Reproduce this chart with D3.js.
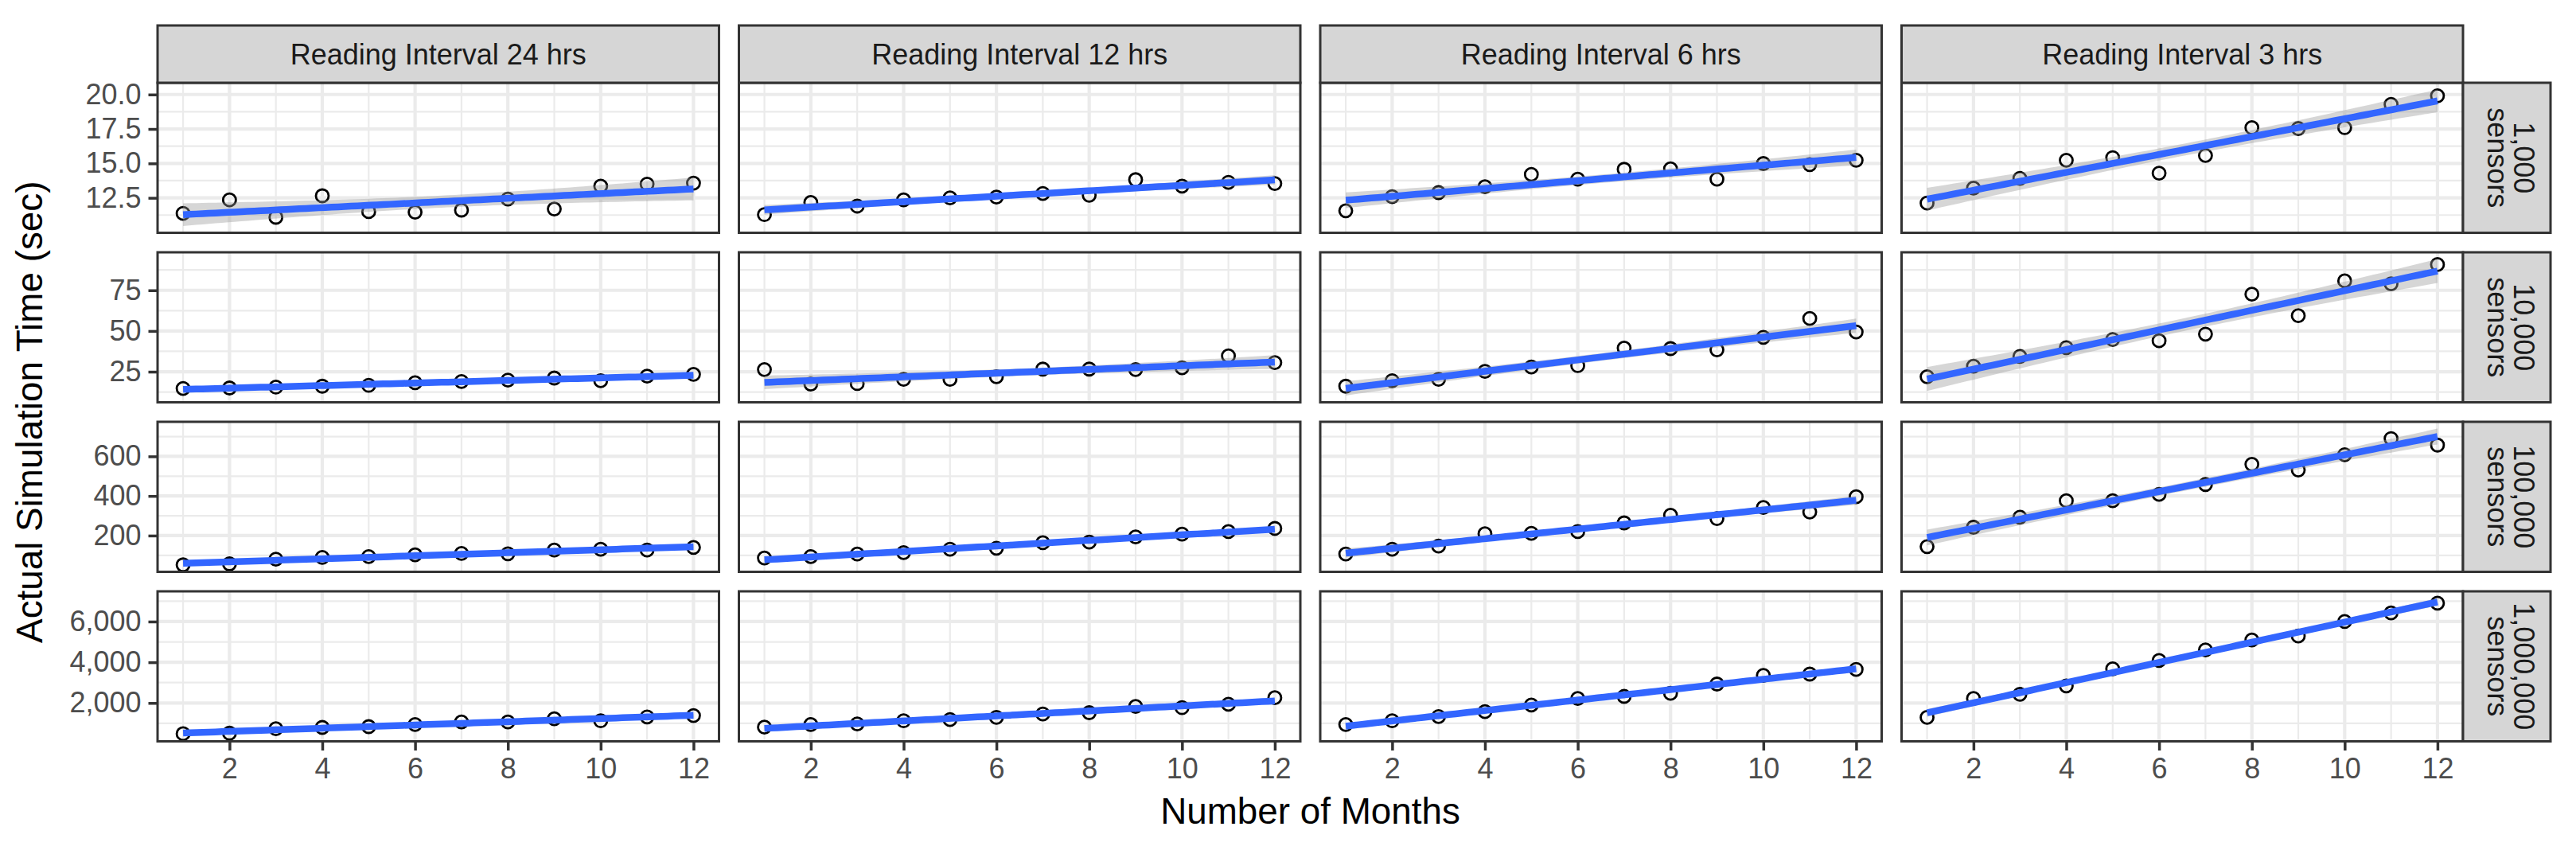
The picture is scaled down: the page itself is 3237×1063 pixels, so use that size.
<!DOCTYPE html>
<html><head><meta charset="utf-8">
<script src="https://cdn.jsdelivr.net/npm/d3@7"></script>
<style>html,body{margin:0;padding:0;background:#fff;} svg{display:block;}</style>
</head><body>
<svg id="chart" width="3237" height="1063"></svg>
<script>
// ---------------- DATA ----------------
const months = [1,2,3,4,5,6,7,8,9,10,11,12];
const intervalLabels = ["Reading Interval 24 hrs","Reading Interval 12 hrs","Reading Interval 6 hrs","Reading Interval 3 hrs"];
const sensorLabels = ["1,000","10,000","100,000","1,000,000"];
const sensorUnit = "sensors";
const xTitle = "Number of Months";
const yTitle = "Actual Simulation Time (sec)";
const xTicks = [2,4,6,8,10,12];
const xMinorTicks = [1,3,5,7,9,11];
const yTicks1k = [12.5,15,17.5,20];
const yTicks10k = [25,50,75];
const yTicks100k = [200,400,600];
const yTicks1m = [2000,4000,6000];
const yMinor1k = [11.25,13.75,16.25,18.75];
const yMinor10k = [12.5,37.5,62.5,87.5];
const yMinor100k = [100,300,500,700];
const yMinor1m = [1000,3000,5000,7000];
const yTickFormats = [".1f","d","d",","];

// 1,000 sensors
const s1k_24h = [11.37,12.35,11.09,12.65,11.50,11.46,11.61,12.41,11.69,13.35,13.50,13.57];
const s1k_12h = [11.28,12.16,11.90,12.35,12.50,12.56,12.82,12.69,13.82,13.35,13.63,13.54];
const s1k_6h  = [11.56,12.59,12.88,13.31,14.20,13.86,14.57,14.61,13.86,14.99,14.91,15.23];
const s1k_3h  = [12.12,13.20,13.91,15.23,15.42,14.29,15.57,17.59,17.53,17.59,19.28,19.91];
// 10,000 sensors
const s10k_24h = [14.7,15.0,15.5,16.1,16.6,18.2,19.0,19.8,21.1,19.5,22.3,23.4];
const s10k_12h = [26.3,17.4,17.7,20.3,20.3,21.9,26.6,26.6,26.3,27.4,34.7,30.6];
const s10k_6h  = [16.1,19.5,20.3,25.2,27.9,28.7,39.5,39.2,38.4,46.1,57.7,49.4];
const s10k_3h  = [21.9,28.4,34.4,39.7,44.8,44.0,48.1,72.6,59.4,80.8,79.0,90.8];
// 100,000 sensors
const s100k_24h = [52,57,81,90,94,103,110,108,127,131,127,140];
const s100k_12h = [87,94,107,114,131,136,164,167,193,207,220,236];
const s100k_6h  = [107,131,147,209,211,220,264,303,286,342,319,396];
const s100k_3h  = [144,242,293,376,376,408,458,560,531,608,690,657];
// 1,000,000 sensors
const s1m_24h = [490,516,735,800,839,942,1071,1071,1226,1123,1316,1381];
const s1m_12h = [813,942,968,1123,1187,1290,1458,1523,1832,1768,1935,2258];
const s1m_6h  = [942,1123,1329,1574,1897,2219,2323,2477,2929,3355,3419,3652];
const s1m_3h  = [1290,2219,2426,2839,3677,4090,4606,5097,5290,6000,6426,6903];

// ---------------- TABLE ----------------
const grid = [
  [s1k_24h, s1k_12h, s1k_6h, s1k_3h],
  [s10k_24h, s10k_12h, s10k_6h, s10k_3h],
  [s100k_24h, s100k_12h, s100k_6h, s100k_3h],
  [s1m_24h, s1m_12h, s1m_6h, s1m_3h]
];
const yTicksRows = [yTicks1k, yTicks10k, yTicks100k, yTicks1m];
const yMinorRows = [yMinor1k, yMinor10k, yMinor100k, yMinor1m];

// ---------------- LAYOUT ----------------
const left0 = 198, colW = 705.5, colGap = 25;
const top0 = 104, rowH = 188.5, rowGap = 24.5;
const stripTop = 32, stripH = 72;
const rStripW = 110;
const FONT = "'Liberation Sans', Arial, Helvetica, sans-serif";

const svg = d3.select("#chart");
svg.append("rect").attr("width",3237).attr("height",1063).attr("fill","#fff");

const x = d3.scaleLinear().domain([1 - 0.55, 12 + 0.55]).range([0, colW]);

// linear model fits
const tcrit = 2.228139;
function fitLM(ys) {
  const n = ys.length;
  const xm = d3.mean(months), ym = d3.mean(ys);
  const sxx = d3.sum(months, v => (v - xm) ** 2);
  const sxy = d3.sum(months, (v, i) => (v - xm) * (ys[i] - ym));
  const b = sxy / sxx, a = ym - b * xm;
  const sse = d3.sum(months, (v, i) => (ys[i] - (a + b * v)) ** 2);
  const s = Math.sqrt(sse / (n - 2));
  const pts = d3.range(80).map(k => {
    const xv = 1 + 11 * k / 79;
    const f = a + b * xv;
    const se = s * Math.sqrt(1 / n + (xv - xm) ** 2 / sxx);
    return {x: xv, y: f, lo: f - tcrit * se, hi: f + tcrit * se};
  });
  return pts;
}

const fits = grid.map(row => row.map(fitLM));

grid.forEach((row, r) => {
  // y domain from points and ribbons, expanded by 5%
  let mn = Infinity, mx = -Infinity;
  row.forEach((ys, c) => {
    mn = Math.min(mn, d3.min(ys), d3.min(fits[r][c], d => d.lo));
    mx = Math.max(mx, d3.max(ys), d3.max(fits[r][c], d => d.hi));
  });
  const pad = (mx - mn) * 0.05;
  const y = d3.scaleLinear().domain([mn - pad, mx + pad]).range([rowH, 0]);
  const py = top0 + r * (rowH + rowGap);
  const fmt = d3.format(yTickFormats[r]);

  row.forEach((ys, c) => {
    const px = left0 + c * (colW + colGap);
    const g = svg.append("g").attr("transform", `translate(${px},${py})`);
    g.append("rect").attr("width", colW).attr("height", rowH).attr("fill", "#fff");
    // minor grid
    g.selectAll(".ymin").data(yMinorRows[r]).enter().append("line")
      .attr("x1", 0).attr("x2", colW).attr("y1", d => y(d)).attr("y2", d => y(d))
      .attr("stroke", "#EBEBEB").attr("stroke-width", 2.2);
    g.selectAll(".xmin").data(xMinorTicks).enter().append("line")
      .attr("y1", 0).attr("y2", rowH).attr("x1", d => x(d)).attr("x2", d => x(d))
      .attr("stroke", "#EBEBEB").attr("stroke-width", 2.2);
    // major grid
    g.selectAll(".ymaj").data(yTicksRows[r]).enter().append("line")
      .attr("x1", 0).attr("x2", colW).attr("y1", d => y(d)).attr("y2", d => y(d))
      .attr("stroke", "#EBEBEB").attr("stroke-width", 4.2);
    g.selectAll(".xmaj").data(xTicks).enter().append("line")
      .attr("y1", 0).attr("y2", rowH).attr("x1", d => x(d)).attr("x2", d => x(d))
      .attr("stroke", "#EBEBEB").attr("stroke-width", 4.2);

    // points
    g.selectAll(".pt").data(ys).enter().append("circle")
      .attr("cx", (d, i) => x(months[i])).attr("cy", d => y(d)).attr("r", 8)
      .attr("fill", "none").attr("stroke", "#000").attr("stroke-width", 2.8);

    // ribbon & line
    const fit = fits[r][c];
    g.append("path").datum(fit)
      .attr("d", d3.area().x(d => x(d.x)).y0(d => y(d.lo)).y1(d => y(d.hi)))
      .attr("fill", "#999999").attr("fill-opacity", 0.4);
    g.append("path").datum(fit)
      .attr("d", d3.line().x(d => x(d.x)).y(d => y(d.y)))
      .attr("fill", "none").attr("stroke", "#3366FF").attr("stroke-width", 8.5);

    // border
    g.append("rect").attr("width", colW).attr("height", rowH)
      .attr("fill", "none").attr("stroke", "#333333").attr("stroke-width", 3);

    // y axis on first column
    if (c === 0) {
      const ya = d3.axisLeft(y).tickValues(yTicksRows[r]).tickFormat(fmt).tickSize(11.5).tickPadding(9);
      const ag = g.append("g").call(ya);
      ag.select(".domain").remove();
      ag.selectAll(".tick line").attr("stroke", "#333333").attr("stroke-width", 3.5);
      ag.selectAll(".tick text").attr("fill", "#4D4D4D").style("font-family", FONT).style("font-size", "36px");
    }
    // x axis on last row
    if (r === grid.length - 1) {
      const xa = d3.axisBottom(x).tickValues(xTicks).tickFormat(d3.format("d")).tickSize(11.5).tickPadding(9);
      const ag = g.append("g").attr("transform", `translate(0,${rowH})`).call(xa);
      ag.select(".domain").remove();
      ag.selectAll(".tick line").attr("stroke", "#333333").attr("stroke-width", 3.5);
      ag.selectAll(".tick text").attr("fill", "#4D4D4D").style("font-family", FONT).style("font-size", "36px");
    }
    // top strips
    if (r === 0) {
      const sg = svg.append("g").attr("transform", `translate(${px},${stripTop})`);
      sg.append("rect").attr("width", colW).attr("height", stripH)
        .attr("fill", "#D6D6D6").attr("stroke", "#333333").attr("stroke-width", 3);
      sg.append("text").attr("x", colW / 2).attr("y", stripH / 2).attr("dy", "0.36em")
        .attr("text-anchor", "middle").attr("fill", "#1A1A1A")
        .style("font-family", FONT).style("font-size", "36px").text(intervalLabels[c]);
    }
    // right strips
    if (c === row.length - 1) {
      const sx = px + colW;
      const sg = svg.append("g").attr("transform", `translate(${sx},${py})`);
      sg.append("rect").attr("width", rStripW).attr("height", rowH)
        .attr("fill", "#D6D6D6").attr("stroke", "#333333").attr("stroke-width", 3);
      const tg = sg.append("g").attr("transform", `translate(${rStripW / 2},${rowH / 2}) rotate(90)`);
      tg.append("text").attr("x", 0).attr("y", -9).attr("text-anchor", "middle").attr("fill", "#1A1A1A")
        .style("font-family", FONT).style("font-size", "36px").text(sensorLabels[r]);
      tg.append("text").attr("x", 0).attr("y", 24).attr("text-anchor", "middle").attr("fill", "#1A1A1A")
        .style("font-family", FONT).style("font-size", "36px").text(sensorUnit);
    }
  });
});

// axis titles
const panelsRight = left0 + 4 * colW + 3 * colGap;
const panelsBottom = top0 + 4 * rowH + 3 * rowGap;
svg.append("text").attr("x", (left0 + panelsRight) / 2).attr("y", 1035)
  .attr("text-anchor", "middle").attr("fill", "#000")
  .style("font-family", FONT).style("font-size", "45.8px").text(xTitle);
svg.append("text").attr("transform", `translate(53,${(top0 + panelsBottom) / 2}) rotate(-90)`)
  .attr("text-anchor", "middle").attr("fill", "#000")
  .style("font-family", FONT).style("font-size", "45.8px").text(yTitle);
</script>
</body></html>
